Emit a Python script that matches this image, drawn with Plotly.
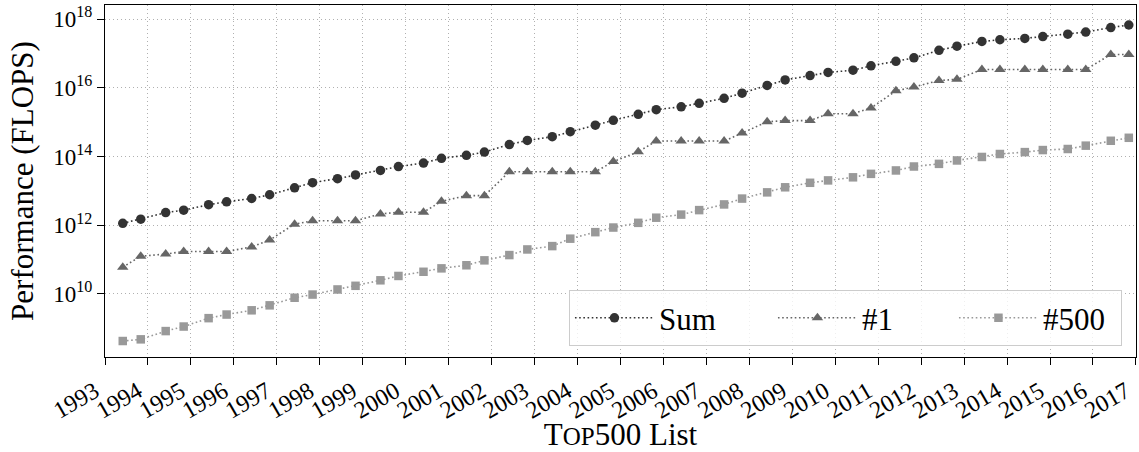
import plotly.graph_objects as go

# TOP500 lists: June and November of each year, 1993-2016
years = list(range(1993, 2017))
list_dates = [f"{y}-{m}-01" for y in years for m in ("06", "11")]

# Performance in GFLOPS
sum_gflops = [
    1128.6, 1493.4, 2317, 2732, 3927, 4784, 5958, 7670,
    12180, 17270, 22600, 28900, 39100, 50900, 64200, 88200,
    108000, 134000, 222000, 293000, 375000, 528000, 813000, 1127000,
    1690000, 2300000, 2790000, 3530000, 4920000, 6970000, 11700000, 16950000,
    22600000, 27950000, 32400000, 43700000, 58900000, 74200000, 123000000, 162000000,
    223000000, 250000000, 274000000, 309000000, 363000000, 420000000, 566000000, 672000000,
]
no1_gflops = [
    59.7, 124.5, 143.4, 170.4, 170.4, 170.4, 232.4, 368.2,
    1068, 1338, 1338, 1338, 2121, 2379, 2379, 4938,
    7226, 7226, 35860, 35860, 35860, 35860, 35860, 70720,
    136800, 280600, 280600, 280600, 280600, 478200, 1026000, 1105000,
    1105000, 1759000, 1759000, 2566000, 8162000, 10510000, 16324750, 17590000,
    33862700, 33862700, 33862700, 33862700, 33862700, 33862700, 93014600, 93014600,
]
no500_gflops = [
    0.422, 0.472, 0.822, 1.114, 1.955, 2.489, 3.306, 4.616,
    7.674, 9.51, 13.39, 17.1, 24.73, 33.1, 43.82, 55.1,
    67.78, 94.3, 134.3, 195.8, 245.1, 403.4, 624, 850.6,
    1166, 1646, 2026, 2737, 4005, 5929.6, 9000, 12640,
    17091, 20051, 24670, 31120, 39090, 50940, 60820, 76410,
    96620, 117800, 133700, 153400, 164800, 206300, 285900, 349300,
]

series_names = ["Sum", "#1", "#500"]
series_values = [sum_gflops, no1_gflops, no500_gflops]
series_colors = ["#333333", "#666666", "#999999"]
series_symbols = ["circle", "triangle-up", "square"]
series_sizes = [9.5, 10, 8.5]
legend_widths = [109, 87, 73]

tick_years = list(range(1993, 2018))
ytick_exps = [10, 12, 14, 16, 18]

FONT = "Liberation Serif"

fig = go.Figure()
for name, vals, col, sym, sz, lw in zip(series_names, series_values, series_colors,
                                        series_symbols, series_sizes, legend_widths):
    fig.add_trace(go.Scatter(
        x=list_dates,
        y=[v * 1e9 for v in vals],
        name=name,
        mode="lines+markers",
        line=dict(color=col, width=1.6, dash="1.6px,2.6px"),
        marker=dict(symbol=sym, size=sz, color=col),
        legendwidth=lw,
    ))

fig.update_layout(
    width=1139, height=452,
    margin=dict(l=105, r=3, t=5, b=95),
    paper_bgcolor="white", plot_bgcolor="white",
    font=dict(family=FONT, size=23, color="black"),
    showlegend=True,
    legend=dict(
        orientation="h",
        x=0.45, xanchor="left",
        y=0.19, yanchor="top",
        bgcolor="rgba(255,255,255,0.8)",
        bordercolor="#cccccc", borderwidth=1,
        font=dict(family=FONT, size=31, color="black"),
        itemwidth=79,
        traceorder="normal",
    ),
)

fig.update_xaxes(
    type="date",
    range=["1993-01-01", "2017-01-01 06:00"],
    tickmode="array",
    tickvals=[f"{y}-01-01" for y in tick_years],
    ticktext=[str(y) for y in tick_years],
    tickangle=-30,
    ticklabelshift=-10,
    ticklabelstandoff=3,
    ticklabeloverflow="allow",
    tickfont=dict(family=FONT, size=24),
    ticks="outside", ticklen=7, tickwidth=1.3, tickcolor="black",
    showline=True, linecolor="black", linewidth=1.3, mirror=True,
    showgrid=True, gridcolor="#b0b0b0", gridwidth=1, griddash="1px,3px",
    zeroline=False,
    title=dict(
        text='T<span style="font-size:25px">OP</span>500 List',
        font=dict(family=FONT, size=31),
        standoff=5,
    ),
    automargin=False,
)

fig.update_yaxes(
    type="log",
    range=[8.16, 18.41],
    tickmode="array",
    tickvals=[10 ** e for e in ytick_exps],
    ticktext=[f"10<sup>{e}</sup>" for e in ytick_exps],
    tickfont=dict(family=FONT, size=23),
    ticks="outside", ticklen=7, tickwidth=1.3, tickcolor="black",
    showline=True, linecolor="black", linewidth=1.3, mirror=True,
    showgrid=True, gridcolor="#b0b0b0", gridwidth=1, griddash="1px,3px",
    zeroline=False,
    title=dict(text="Performance (FLOPS)", font=dict(family=FONT, size=31), standoff=10),
    automargin=False,
)

fig.write_html("out.html")
